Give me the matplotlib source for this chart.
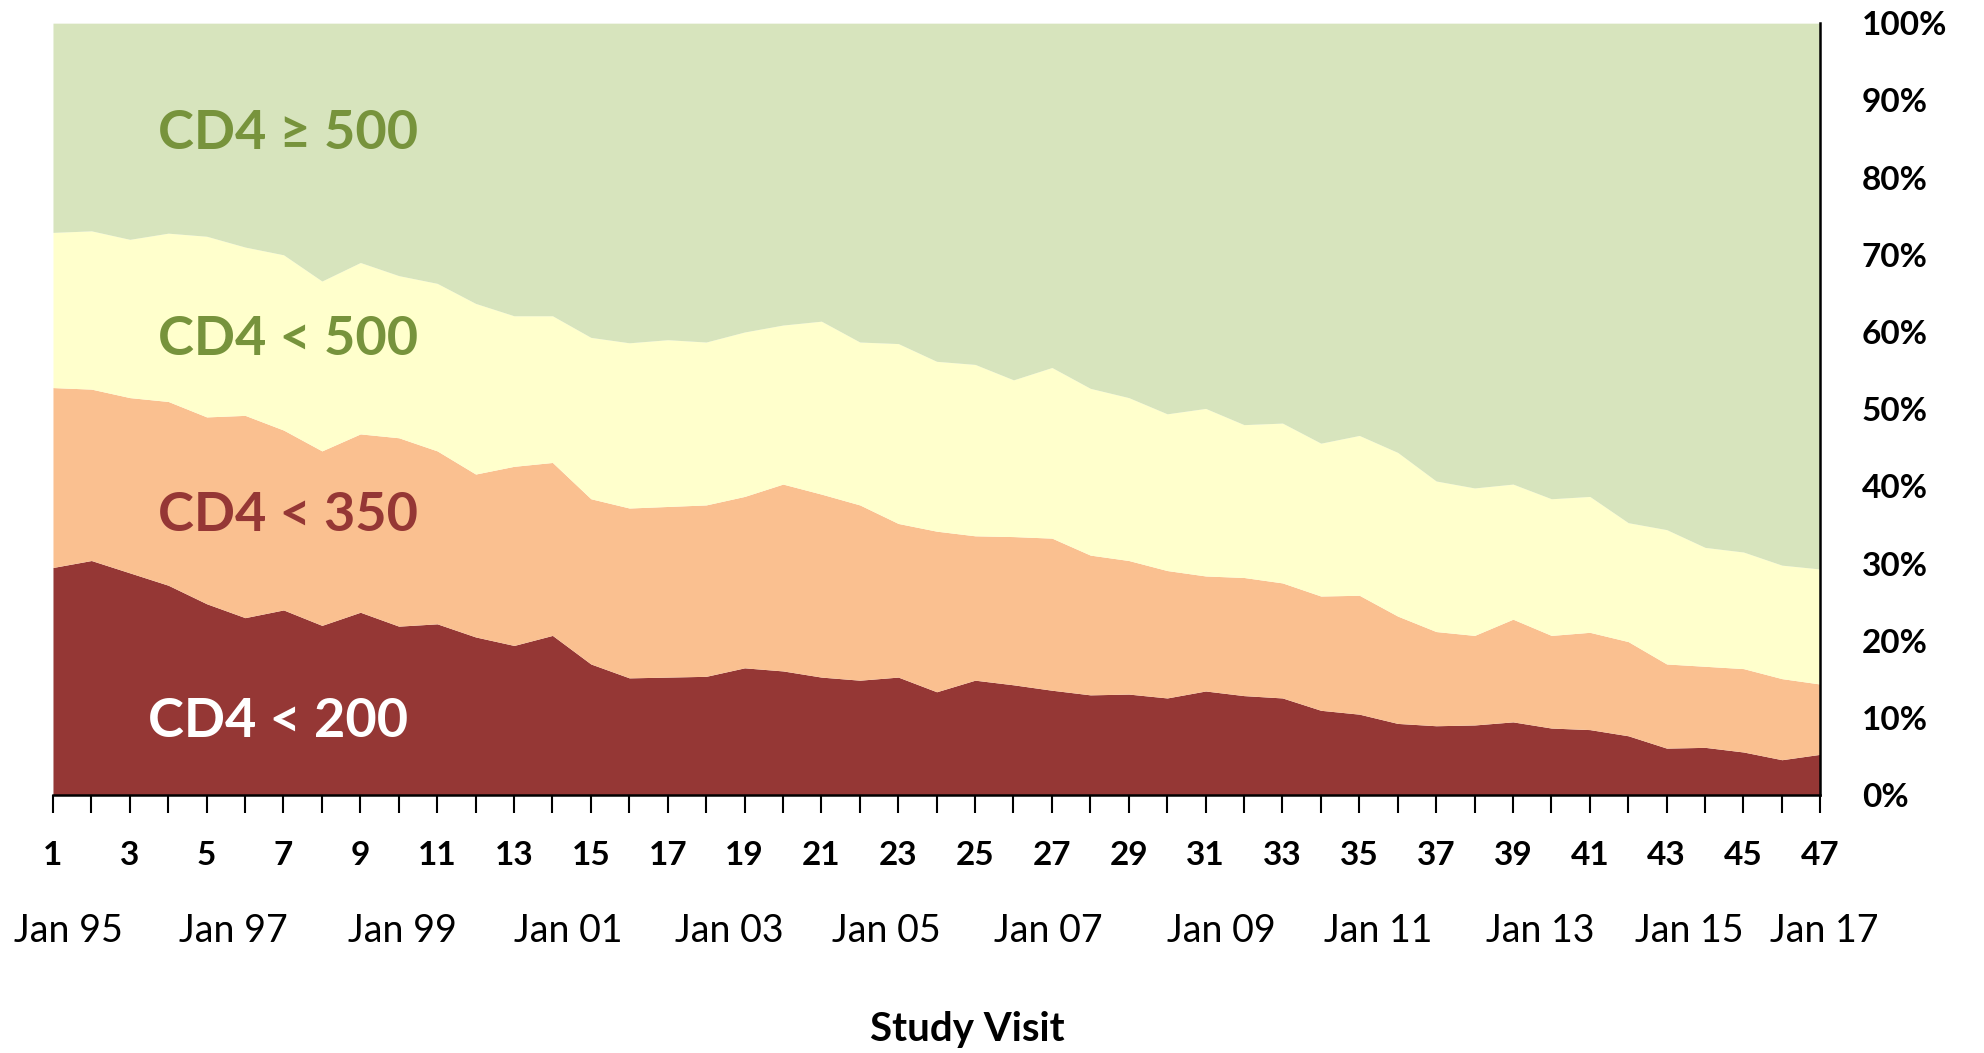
import numpy as np
import matplotlib
matplotlib.use("Agg")
import matplotlib.pyplot as plt
import matplotlib.transforms as mtransforms

plt.rcParams['font.family'] = ['Lato', 'DejaVu Sans']

# study visits 1..47
visits = list(range(1, 48))

# cumulative shares (%): top edge of each band
cum_200 = [29.5, 30.4, 28.8, 27.2, 24.8, 23.0, 24.0, 22.0, 23.7, 21.9,
           22.2, 20.5, 19.4, 20.7, 17.0, 15.2, 15.3, 15.4, 16.5, 16.1,
           15.3, 14.9, 15.3, 13.4, 14.9, 14.3, 13.6, 13.0, 13.1, 12.6,
           13.5, 12.9, 12.6, 11.0, 10.5, 9.3, 9.0, 9.1, 9.5, 8.7,
           8.5, 7.7, 6.1, 6.2, 5.6, 4.6, 5.3]
cum_350 = [52.8, 52.6, 51.5, 51.0, 49.0, 49.2, 47.3, 44.6, 46.8, 46.3,
           44.6, 41.6, 42.6, 43.1, 38.4, 37.2, 37.4, 37.6, 38.7, 40.3,
           39.0, 37.6, 35.2, 34.2, 33.6, 33.5, 33.3, 31.1, 30.4, 29.1,
           28.4, 28.2, 27.5, 25.8, 25.9, 23.2, 21.2, 20.7, 22.8, 20.7,
           21.1, 19.9, 17.0, 16.7, 16.4, 15.1, 14.4]
cum_500 = [72.9, 73.1, 72.0, 72.8, 72.4, 71.0, 70.0, 66.6, 69.0, 67.3,
           66.3, 63.7, 62.1, 62.1, 59.3, 58.6, 59.0, 58.7, 60.0, 60.9,
           61.4, 58.7, 58.5, 56.2, 55.8, 53.8, 55.4, 52.7, 51.5, 49.4,
           50.1, 48.0, 48.2, 45.6, 46.6, 44.4, 40.7, 39.8, 40.3, 38.4,
           38.7, 35.3, 34.4, 32.1, 31.5, 29.8, 29.3]

band_colors = ['#953735', '#FAC090', '#FFFFCC', '#D7E4BD']

date_labels = ['Jan 95', 'Jan 97', 'Jan 99', 'Jan 01', 'Jan 03', 'Jan 05',
               'Jan 07', 'Jan 09', 'Jan 11', 'Jan 13', 'Jan 15', 'Jan 17']
date_pos = [1.4, 5.7, 10.1, 14.4, 18.6, 22.7, 26.9, 31.4, 35.5, 39.7, 43.6, 47.1]

fig = plt.figure(figsize=(19.84, 10.53), dpi=100)
ax = fig.add_axes([0.0267, 0.2448, 0.8908, 0.7332])

x = np.array(visits)
zero = np.zeros(len(x))
top = np.full(len(x), 100.0)
ax.fill_between(x, zero, cum_200, color=band_colors[0], lw=0)
ax.fill_between(x, cum_200, cum_350, color=band_colors[1], lw=0)
ax.fill_between(x, cum_350, cum_500, color=band_colors[2], lw=0)
ax.fill_between(x, cum_500, top, color=band_colors[3], lw=0)

ax.set_xlim(1, 47)
ax.set_ylim(0, 100)

# axes look
ax.spines['top'].set_visible(False)
ax.spines['left'].set_visible(False)
ax.spines['right'].set_linewidth(1.8)
ax.spines['bottom'].set_linewidth(1.8)

ax.yaxis.tick_right()
ax.set_yticks(range(0, 101, 10))
ax.set_yticklabels([f'{v}%' for v in range(0, 101, 10)],
                   fontsize=24, fontweight='bold')
ax.tick_params(axis='y', length=0, pad=30)

ax.set_xticks(visits)
ax.set_xticklabels([str(v) if v % 2 == 1 else '' for v in visits],
                   fontsize=24, fontweight='bold')
ax.tick_params(axis='x', direction='out', length=13, width=1.5, pad=20)

# date row under the visit numbers
trans = mtransforms.blended_transform_factory(ax.transData, fig.transFigure)
for lab, p in zip(date_labels, date_pos):
    ax.text(p, 1 - 931 / 1053, lab, transform=trans, fontsize=27,
            ha='center', va='center', clip_on=False)

fig.text(0.4875, 1 - 1030 / 1053, 'Study Visit', fontsize=29,
         fontweight='bold', ha='center', va='center')

# band labels
ax.text(3.73, 85.7, 'CD4 \u2265 500', fontsize=39, fontweight='bold',
        color='#77933C', va='center', ha='left')
ax.text(3.73, 59.0, 'CD4 < 500', fontsize=39, fontweight='bold',
        color='#77933C', va='center', ha='left')
ax.text(3.73, 36.2, 'CD4 < 350', fontsize=39, fontweight='bold',
        color='#953735', va='center', ha='left')
ax.text(3.47, 9.5, 'CD4 < 200', fontsize=39, fontweight='bold',
        color='white', va='center', ha='left')

fig.savefig('out.png', dpi=100)
